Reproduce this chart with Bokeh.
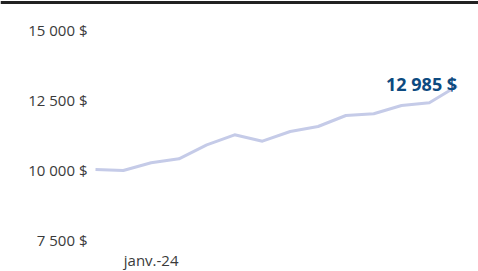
from bokeh.plotting import figure
from bokeh.models import ColumnDataSource, Range1d, Span
from bokeh.core.properties import value
from bokeh.embed import file_html
from bokeh.resources import INLINE

# ---- data ----
months = ["nov.-23", "déc.-23", "janv.-24", "févr.-24", "mars-24", "avr.-24", "mai-24",
          "juin-24", "juil.-24", "août-24", "sept.-24", "oct.-24", "nov.-24", "déc.-24"]
values = [10000, 9964, 10239, 10382, 10882, 11239, 11011, 11357, 11536, 11929,
          11989, 12286, 12382, 12985]
y_ticks = [7500, 10000, 12500, 15000]
x_tick_labels = ["janv.-24"]
final_label = "12 985 $"


def fmt(v):
    return f"{v:,}".replace(",", " ") + " $"


W, H = 478, 271
ppx = 27.82          # pixels per month
ppy = 0.028          # pixels per dollar
x0_px = 95           # x of first point
y10k_px = 169        # y of 10 000 $

x_start = -x0_px / ppx
x_end = (W - x0_px) / ppx
y_end = 10000 + y10k_px / ppy
y_start = 10000 - (H - y10k_px) / ppy

p = figure(width=W, height=H, output_backend="svg", toolbar_location=None,
           x_range=Range1d(x_start, x_end), y_range=Range1d(y_start, y_end),
           min_border=0, min_border_left=0, min_border_right=0,
           min_border_top=0, min_border_bottom=0)
p.xaxis.visible = False
p.yaxis.visible = False
p.grid.visible = False
p.outline_line_color = None
p.background_fill_color = "white"
p.border_fill_color = "white"

idx = list(range(len(values)))
src = ColumnDataSource(dict(x=idx, y=values))
p.line("x", "y", source=src, line_color="#c5cbe8", line_width=3, line_join="round")

# top rule
p.add_layout(Span(location=y_end - 2 / ppy, dimension="width",
                  line_color="#222222", line_width=3))

# y tick labels
lab_x = (-8) / ppx
ysrc = ColumnDataSource(dict(x=[lab_x] * len(y_ticks), y=y_ticks,
                             t=[fmt(v) for v in y_ticks]))
p.text("x", "y", text="t", source=ysrc, text_align="right", text_baseline="middle",
       text_font=value("Open Sans"), text_font_size="15px", text_color="#3a3a3a")

# x tick label
xi = [months.index(m) for m in x_tick_labels]
xsrc = ColumnDataSource(dict(x=xi, y=[10000 - 90 / ppy] * len(xi), t=x_tick_labels))
p.text("x", "y", text="t", source=xsrc, text_align="center", text_baseline="middle",
       text_font=value("Open Sans"), text_font_size="15px", text_color="#3a3a3a")

# final value label
fsrc = ColumnDataSource(dict(x=[idx[-1]], y=[values[-1]], t=[final_label]))
p.text("x", "y", text="t", source=fsrc, text_align="right", text_baseline="alphabetic",
       y_offset=-2, text_font=value("Open Sans"), text_font_style="bold",
       text_font_size="18px", text_color="#0d4a80")

open("out.html", "w").write(file_html(p, INLINE))
